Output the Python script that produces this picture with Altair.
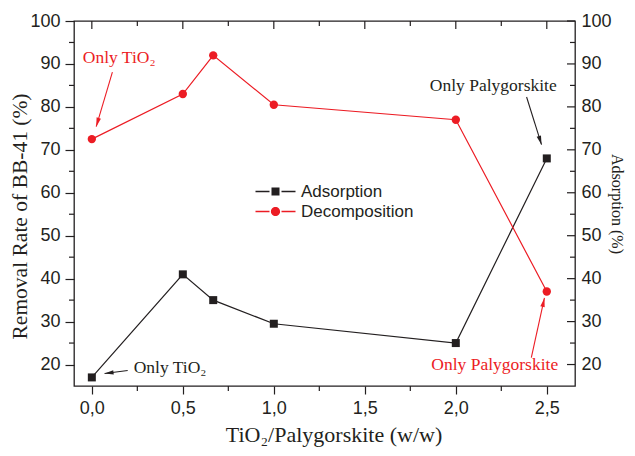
import math
import altair as alt
import pandas as pd

# ---------------- data ----------------
ratio = [0.0, 0.5, 0.667, 1.0, 2.0, 2.5]
adsorption = [17.0, 41.0, 35.0, 29.5, 25.0, 68.0]
decomposition = [72.5, 83.0, 92.0, 80.5, 77.0, 37.0]

series_names = ["Adsorption", "Decomposition"]

x_major = [0.0, 0.5, 1.0, 1.5, 2.0, 2.5]
x_minor = [0.25, 0.75, 1.25, 1.75, 2.25]
y_major = [20, 30, 40, 50, 60, 70, 80, 90, 100]
y_minor = [25, 35, 45, 55, 65, 75, 85, 95]

note_text = ["Only TiO₂", "Only TiO₂", "Only Palygorskite", "Only Palygorskite"]
note_series = ["Decomposition", "Adsorption", "Adsorption", "Decomposition"]
note_x = [0.15, 0.43, 2.206, 2.214]
note_y = [91.3, 19.3, 84.8, 20.0]
arrow_x0 = [0.113, 0.197, 2.389, 2.415]
arrow_y0 = [88.1, 18.6, 82.3, 21.6]
arrow_x1 = [0.024, 0.070, 2.471, 2.487]
arrow_y1 = [75.4, 17.9, 71.2, 35.5]

# ---------------- styling ----------------
BLACK = "#231f20"
RED = "#ec1c24"
series_colors = [BLACK, RED]
W, H = 501, 365
X_DOMAIN = [-0.098, 2.655]
Y_DOMAIN = [15, 100]

xs = alt.Scale(domain=X_DOMAIN, nice=False, zero=False)
ys = alt.Scale(domain=Y_DOMAIN, nice=False, zero=False)

color_of = dict(zip(series_names, series_colors))

ads = pd.DataFrame({"x": ratio, "y": adsorption})
dec = pd.DataFrame({"x": ratio, "y": decomposition})

# arrow angles (screen space) for arrowheads
sx = W / (X_DOMAIN[1] - X_DOMAIN[0])
sy = H / (Y_DOMAIN[1] - Y_DOMAIN[0])
angles = []
for a, b, c, d in zip(arrow_x0, arrow_y0, arrow_x1, arrow_y1):
    dx = (c - a) * sx
    dy = -(d - b) * sy
    angles.append(math.degrees(math.atan2(dx, -dy)) % 360)

notes = pd.DataFrame({
    "text": note_text, "x": note_x, "y": note_y,
    "color": [color_of[s] for s in note_series],
})
arrows = pd.DataFrame({
    "x0": arrow_x0, "y0": arrow_y0, "x1": arrow_x1, "y1": arrow_y1,
    "angle": angles, "color": [color_of[s] for s in note_series],
})

x_axis = alt.Axis(
    orient="bottom", values=x_major, tickSize=8, labelPadding=5,
    labelExpr="replace(format(datum.value, '.1f'), '.', ',')",
    title="TiO₂/Palygorskite (w/w)", titlePadding=7, titleX=W / 2 + 9,
)
y_axis_left = alt.Axis(
    orient="left", values=y_major, tickSize=9, labelPadding=5, format="d",
    title="Removal Rate of BB-41 (%)", titlePadding=-2, titleFontSize=21.5,
    titleY=195,
)
y_axis_right = alt.Axis(
    orient="right", values=y_major, ticks=False, tickSize=0, labelPadding=6,
    format="d", title="Adsorption (%)", titlePadding=-3, titleFontSize=16,
)

ads_line = alt.Chart(ads).mark_line(color=BLACK, strokeWidth=1.2).encode(
    x=alt.X("x:Q", scale=xs, axis=x_axis),
    y=alt.Y("y:Q", scale=ys, axis=y_axis_left),
)
ads_pts = alt.Chart(ads).mark_point(shape="square", filled=True, size=64, color=BLACK, opacity=1).encode(
    x=alt.X("x:Q", scale=xs, axis=None),
    y=alt.Y("y:Q", scale=ys, axis=None),
)
dec_line = alt.Chart(dec).mark_line(color=RED, strokeWidth=1.2).encode(
    x=alt.X("x:Q", scale=xs, axis=None),
    y=alt.Y("y:Q", scale=ys, axis=None),
)
dec_pts = alt.Chart(dec).mark_point(shape="circle", filled=True, size=70, color=RED, opacity=1).encode(
    x=alt.X("x:Q", scale=xs, axis=None),
    y=alt.Y("y:Q", scale=ys, axis=None),
)

# legend (symbols = line segment + marker + line segment)
seg = "M-5,-0.18H-1.5V0.18H-5Z M1.5,-0.18H5V0.18H1.5Z "
legend_paths = [
    seg + "M-1,-1H1V1H-1Z",
    seg + "M-1.15,0A1.15,1.15 0 1,0 1.15,0A1.15,1.15 0 1,0 -1.15,0Z",
]
leg = alt.Legend(
    title=None, orient="none", legendX=193, legendY=162, symbolSize=64,
    symbolOpacity=1, symbolStrokeWidth=0, labelFont="Liberation Sans",
    labelFontSize=17, labelColor=BLACK, labelOffset=17, rowPadding=2, padding=0,
)
legend_layer = alt.Chart(pd.DataFrame({"series": series_names})).mark_point(
    filled=True, opacity=0
).encode(
    color=alt.Color("series:N", scale=alt.Scale(domain=series_names, range=series_colors), legend=leg),
    shape=alt.Shape("series:N", scale=alt.Scale(domain=series_names, range=legend_paths), legend=leg),
)

# annotations
note_layer = alt.Chart(notes).mark_text(
    font="Liberation Serif", fontSize=17.5, baseline="middle", align="center"
).encode(
    x=alt.X("x:Q", scale=xs, axis=None),
    y=alt.Y("y:Q", scale=ys, axis=None),
    text="text:N",
    color=alt.Color("color:N", scale=None),
)
arrow_lines = alt.Chart(arrows).mark_rule(strokeWidth=1.1).encode(
    x=alt.X("x0:Q", scale=xs, axis=None),
    y=alt.Y("y0:Q", scale=ys, axis=None),
    x2="x1:Q", y2="y1:Q",
    color=alt.Color("color:N", scale=None),
)
arrow_heads = alt.Chart(arrows).mark_point(
    shape="M0,0L0.45,1.8L-0.45,1.8Z", filled=True, size=100, opacity=1
).encode(
    x=alt.X("x1:Q", scale=xs, axis=None),
    y=alt.Y("y1:Q", scale=ys, axis=None),
    angle=alt.Angle("angle:Q", scale=None),
    color=alt.Color("color:N", scale=None),
)

# extra ticks: minor outward (bottom/left), inward (top/right)
xmaj = pd.DataFrame({"v": x_major})
xmin = pd.DataFrame({"v": x_minor})
ymaj = pd.DataFrame({"v": y_major})
ymin = pd.DataFrame({"v": y_minor})

tick_style = dict(color=BLACK, strokeWidth=1.2)
bottom_minor = alt.Chart(xmin).mark_rule(**tick_style).encode(
    x=alt.X("v:Q", scale=xs, axis=None), y=alt.value(H), y2=alt.value(H + 5))
top_major = alt.Chart(xmaj).mark_rule(**tick_style).encode(
    x=alt.X("v:Q", scale=xs, axis=None), y=alt.value(0), y2=alt.value(8))
top_minor = alt.Chart(xmin).mark_rule(**tick_style).encode(
    x=alt.X("v:Q", scale=xs, axis=None), y=alt.value(0), y2=alt.value(5))
left_minor = alt.Chart(ymin).mark_rule(**tick_style).encode(
    y=alt.Y("v:Q", scale=ys, axis=None), x=alt.value(0), x2=alt.value(-5))
right_major = alt.Chart(ymaj).mark_rule(**tick_style).encode(
    y=alt.Y("v:Q", scale=ys, axis=y_axis_right), x=alt.value(W), x2=alt.value(W - 8))
right_minor = alt.Chart(ymin).mark_rule(**tick_style).encode(
    y=alt.Y("v:Q", scale=ys, axis=None), x=alt.value(W), x2=alt.value(W - 5))

chart = alt.layer(
    ads_line, bottom_minor, top_major, top_minor, left_minor, right_major, right_minor,
    dec_line, ads_pts, dec_pts, arrow_lines, arrow_heads, note_layer, legend_layer,
).resolve_axis(x="independent", y="independent").properties(
    width=W, height=H,
    autosize=alt.AutoSizeParams(type="none"),
    padding={"left": 66, "top": 13, "right": 52, "bottom": 62},
    background="white",
).configure_view(
    stroke=BLACK, strokeWidth=1.3
).configure_axis(
    labelFont="Liberation Sans", labelFontSize=18, labelColor=BLACK,
    titleFont="Liberation Serif", titleFontSize=22, titleFontWeight="normal",
    titleColor=BLACK, tickColor=BLACK, tickWidth=1.2, domain=False, grid=False,
)

chart.save("out.html", embed_options={"renderer": "svg", "actions": False})
